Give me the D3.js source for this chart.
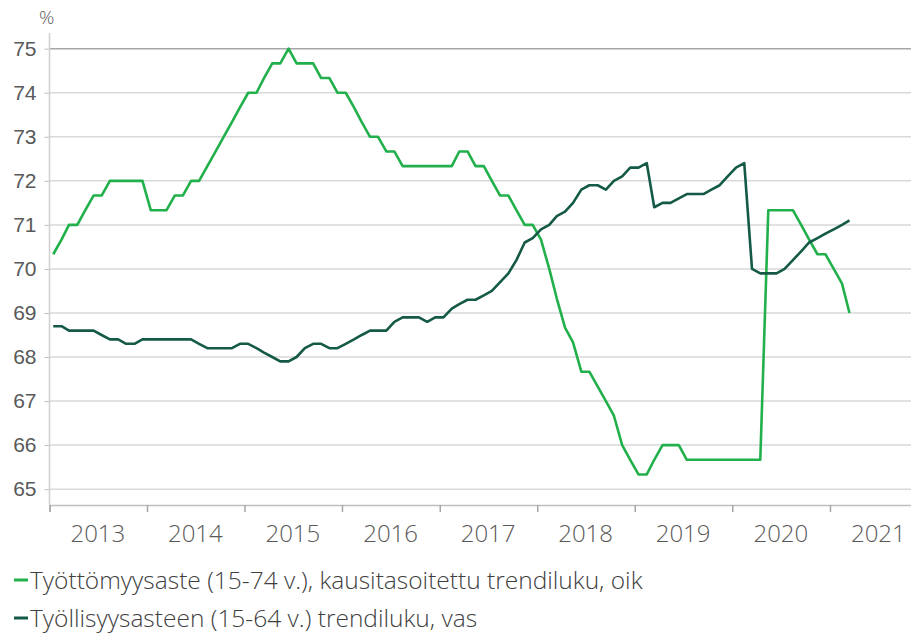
<!DOCTYPE html>
<html>
<head>
<meta charset="utf-8">
<script src="https://cdn.jsdelivr.net/npm/d3@7"></script>
<style>
  body { margin: 0; background: #fff; }
  svg { display: block; font-family: "Open Sans", sans-serif; }
</style>
</head>
<body>
<svg id="chart" width="911" height="634"></svg>
<script>
// monthly trend figures, Jan 2013 .. Mar 2021
const months = d3.timeMonth.range(new Date(2013, 0, 1), new Date(2021, 3, 1));

// employment rate 15-64, trend (left axis)
const employment = [
  68.7, 68.7, 68.6, 68.6, 68.6, 68.6, 68.5, 68.4, 68.4, 68.3, 68.3, 68.4,
  68.4, 68.4, 68.4, 68.4, 68.4, 68.4, 68.3, 68.2, 68.2, 68.2, 68.2, 68.3,
  68.3, 68.2, 68.1, 68.0, 67.9, 67.9, 68.0, 68.2, 68.3, 68.3, 68.2, 68.2,
  68.3, 68.4, 68.5, 68.6, 68.6, 68.6, 68.8, 68.9, 68.9, 68.9, 68.8, 68.9,
  68.9, 69.1, 69.2, 69.3, 69.3, 69.4, 69.5, 69.7, 69.9, 70.2, 70.6, 70.7,
  70.9, 71.0, 71.2, 71.3, 71.5, 71.8, 71.9, 71.9, 71.8, 72.0, 72.1, 72.3,
  72.3, 72.4, 71.4, 71.5, 71.5, 71.6, 71.7, 71.7, 71.7, 71.8, 71.9, 72.1,
  72.3, 72.4, 70.0, 69.9, 69.9, 69.9, 70.0, 70.2, 70.4, 70.6, 70.7, 70.8,
  70.9, 71.0, 71.1
];

// unemployment rate 15-74, seasonally adjusted trend (right axis, not drawn)
const unemployment = [
  8.1, 8.2, 8.3, 8.3, 8.4, 8.5, 8.5, 8.6, 8.6, 8.6, 8.6, 8.6,
  8.4, 8.4, 8.4, 8.5, 8.5, 8.6, 8.6, 8.7, 8.8, 8.9, 9.0, 9.1,
  9.2, 9.2, 9.3, 9.4, 9.4, 9.5, 9.4, 9.4, 9.4, 9.3, 9.3, 9.2,
  9.2, 9.1, 9.0, 8.9, 8.9, 8.8, 8.8, 8.7, 8.7, 8.7, 8.7, 8.7,
  8.7, 8.7, 8.8, 8.8, 8.7, 8.7, 8.6, 8.5, 8.5, 8.4, 8.3, 8.3,
  8.2, 8.0, 7.8, 7.6, 7.5, 7.3, 7.3, 7.2, 7.1, 7.0, 6.8, 6.7,
  6.6, 6.6, 6.7, 6.8, 6.8, 6.8, 6.7, 6.7, 6.7, 6.7, 6.7, 6.7,
  6.7, 6.7, 6.7, 6.7, 8.4, 8.4, 8.4, 8.4, 8.3, 8.2, 8.1, 8.1,
  8.0, 7.9, 7.7
];

const yearLabels = ["2013", "2014", "2015", "2016", "2017", "2018", "2019", "2020", "2021"];
const leftTicks = [65, 66, 67, 68, 69, 70, 71, 72, 73, 74, 75];

const legendItems = [
  { label: "Työttömyysaste (15-74 v.), kausitasoitettu trendiluku, oik", color: "#21b04b" },
  { label: "Työllisyysasteen (15-64 v.) trendiluku, vas", color: "#155a47" },
];

const width = 911, height = 634;
const svg = d3.select("#chart");

const x = d3.scaleTime()
  .domain([new Date(2013, 0, 1), new Date(2022, 0, 1)])
  .range([49.5, 927.5]);

const y = d3.scaleLinear().domain([64.64, 75]).range([505, 48.7]);
// right scale lines up 6.5..9.5 with 65..75 of the left one
const yR = d3.scaleLinear().domain([6.5, 9.5]).range([y(65), y(75)]);

const mid = (d) => d3.timeDay.offset(d, 14);

// gridlines
svg.append("g")
  .selectAll("line")
  .data(leftTicks)
  .join("line")
  .attr("x1", x.range()[0])
  .attr("x2", width)
  .attr("y1", (d) => y(d))
  .attr("y2", (d) => y(d))
  .attr("stroke", (d) => (d === 75 ? "#a6a6a6" : "#d9d9d9"))
  .attr("stroke-width", 1.5);

// left axis
const yAxis = svg.append("g")
  .attr("transform", `translate(${x.range()[0]},0)`)
  .call(d3.axisLeft(y).tickValues(leftTicks).tickSize(5).tickPadding(8))
  .call((g) => g.select(".domain").remove());
yAxis.selectAll(".tick line").attr("stroke", "#bfbfbf");
yAxis.selectAll(".tick text")
  .attr("fill", "#595959")
  .attr("font-size", 21)
  .attr("font-weight", 300);

svg.append("line")
  .attr("x1", x.range()[0]).attr("x2", x.range()[0])
  .attr("y1", 33).attr("y2", 505)
  .attr("stroke", "#d0d0d0").attr("stroke-width", 1.5);

svg.append("text")
  .attr("x", 39).attr("y", 24)
  .attr("fill", "#595959")
  .attr("font-size", 19)
  .attr("font-weight", 300)
  .text("%");

// bottom axis: year boundaries as ticks, labels centred in each year
const xAxis = svg.append("g")
  .attr("transform", "translate(0,505)")
  .call(d3.axisBottom(x).ticks(d3.timeYear.every(1)).tickSize(7).tickFormat(""));
xAxis.select(".domain").attr("stroke", "#bfbfbf").attr("stroke-width", 1.5);
xAxis.selectAll(".tick line").attr("stroke", "#a6a6a6").attr("stroke-width", 1.5);

svg.append("g")
  .selectAll("text")
  .data(yearLabels)
  .join("text")
  .attr("x", (d) => x(new Date(+d, 6, 1)))
  .attr("y", 542)
  .attr("text-anchor", "middle")
  .attr("fill", "#595959")
  .attr("font-size", 24)
  .attr("font-weight", 300)
  .text((d) => d);

// lines
const lineLeft = d3.line().x((d, i) => x(mid(months[i]))).y((d) => y(d));
const lineRight = d3.line().x((d, i) => x(mid(months[i]))).y((d) => yR(d));

svg.append("path")
  .datum(unemployment)
  .attr("fill", "none")
  .attr("stroke", legendItems[0].color)
  .attr("stroke-width", 2.6)
  .attr("stroke-linejoin", "round")
  .attr("d", lineRight);

svg.append("path")
  .datum(employment)
  .attr("fill", "none")
  .attr("stroke", legendItems[1].color)
  .attr("stroke-width", 2.6)
  .attr("stroke-linejoin", "round")
  .attr("d", lineLeft);

// legend
const lg = svg.append("g")
  .selectAll("g")
  .data(legendItems)
  .join("g")
  .attr("transform", (d, i) => `translate(0,${580 + i * 38})`);

lg.append("line")
  .attr("x1", 14).attr("x2", 28)
  .attr("stroke", (d) => d.color)
  .attr("stroke-width", 3);

lg.append("text")
  .attr("x", 30)
  .attr("dy", "0.35em")
  .attr("fill", "#404040")
  .attr("font-size", 24.5)
  .attr("font-weight", 300)
  .text((d) => d.label);
</script>
</body>
</html>
